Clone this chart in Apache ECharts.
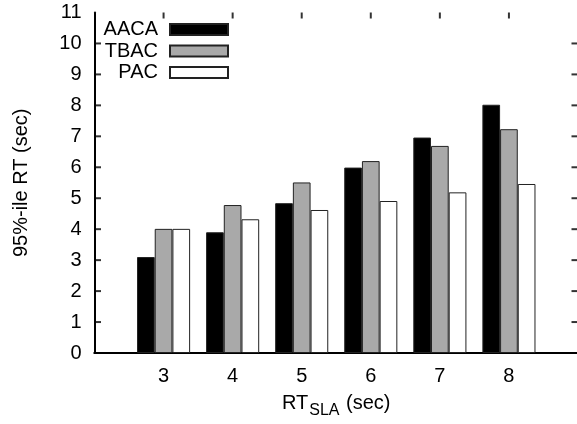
<!DOCTYPE html>
<html>
<head>
<meta charset="utf-8">
<script src="https://cdn.jsdelivr.net/npm/echarts@6/dist/echarts.min.js"></script>
<style>html,body{margin:0;padding:0;background:#fff;}#c{width:577px;height:424px;}</style>
</head>
<body>
<div id="c"></div>
<script>
const categories = ['3', '4', '5', '6', '7', '8'];
const seriesNames = ['AACA', 'TBAC', 'PAC'];
const aaca = [3.1, 3.9, 4.84, 5.99, 6.96, 8.02];
const tbac = [4.01, 4.78, 5.51, 6.2, 6.69, 7.23];
const pac = [4.01, 4.32, 4.62, 4.91, 5.19, 5.46];
const yTicks = [0, 1, 2, 3, 4, 5, 6, 7, 8, 9, 10, 11];

const FONT = 'Liberation Sans, Arial, Helvetica, sans-serif';
const axisCats = ['2'].concat(categories, ['9']);
const leftCat = axisCats[0];
const rightCat = axisCats[axisCats.length - 1];
const yMin = yTicks[0], yMax = yTicks[yTicks.length - 1];
const pad = v => [null].concat(v, [null]);
const colors = ['#000000', '#a9a9a9', '#ffffff'];
const values = [aaca, tbac, pac];
const innerY = yTicks.filter(t => t > yMin && t < yMax);

const chart = echarts.init(document.getElementById('c'), null, {renderer: 'canvas'});
const legendTops = [18.5, 40, 61.5];

const tickSeries = (data, size, offset) => ({
  type: 'scatter', xAxisIndex: 0, yAxisIndex: 0, silent: true, z: 5, clip: false,
  symbol: 'rect', symbolSize: size, symbolOffset: offset,
  itemStyle: {color: '#000'}, data: data, legendHoverLink: false
});

const option = {
  animation: false,
  backgroundColor: '#fff',
  textStyle: {fontFamily: FONT},
  grid: {left: 94.5, right: -1, top: 12.5, bottom: 71, containLabel: false, outerBoundsMode: 'none'},
  legend: seriesNames.map((n, i) => ({
    data: [n], orient: 'vertical', align: 'right', right: 348, top: legendTops[i], padding: 0,
    itemWidth: 58, itemHeight: 11, icon: 'rect', selectedMode: false,
    textStyle: {fontFamily: FONT, fontSize: 20, color: '#000', lineHeight: 22, padding: [0, 7, 0, 0]}
  })),
  xAxis: [{
    type: 'category', data: axisCats, boundaryGap: false, position: 'bottom',
    axisLine: {lineStyle: {color: '#000', width: 2}},
    axisTick: {show: false},
    axisLabel: {fontFamily: FONT, fontSize: 20, color: '#000', margin: 13,
      interval: 0,
      formatter: v => categories.indexOf(v) >= 0 ? v : ''},
    name: '{a|RT}{s|SLA}{a| (sec)}', nameLocation: 'middle', nameGap: 40,
    nameTextStyle: {
      rich: {
        a: {fontFamily: FONT, fontSize: 20, color: '#000', verticalAlign: 'top', lineHeight: 26},
        s: {fontFamily: FONT, fontSize: 16, color: '#000', verticalAlign: 'bottom', lineHeight: 26, padding: [9, 1, 0, 1]}
      }
    }
  }, {
    type: 'category', data: axisCats, boundaryGap: false, position: 'top',
    axisLine: {lineStyle: {color: '#000', width: 2}},
    axisTick: {show: false},
    axisLabel: {show: false}
  }],
  yAxis: [{
    type: 'value', min: yMin, max: yMax, interval: 1, position: 'left',
    splitLine: {show: false},
    axisLine: {show: true, lineStyle: {color: '#000', width: 2}},
    axisTick: {show: false},
    axisLabel: {fontFamily: FONT, fontSize: 20, color: '#000', margin: 13,
      formatter: v => yTicks.indexOf(v) >= 0 ? String(v) : ''},
    name: '95%-ile RT (sec)', nameLocation: 'middle', nameGap: 63, nameRotate: 90,
    nameTextStyle: {fontFamily: FONT, fontSize: 20, color: '#000'}
  }, {
    type: 'value', min: yMin, max: yMax, interval: 1, position: 'right',
    splitLine: {show: false},
    axisLine: {show: true, lineStyle: {color: '#000', width: 2}},
    axisTick: {show: false},
    axisLabel: {show: false}
  }],
  series: seriesNames.map((n, i) => ({
    name: n, type: 'bar', xAxisIndex: 0, yAxisIndex: 0,
    data: pad(values[i]), barWidth: 17.7, barGap: '0%',
    itemStyle: {color: colors[i], borderColor: '#222', borderWidth: 1}
  })).concat([
    tickSeries(innerY.map(t => [leftCat, t]), [6, 2], [3.5, 0]),
    tickSeries(innerY.map(t => [rightCat, t]), [6, 2], [-3.5, 0]),
    tickSeries(categories.map(c => [c, yMax]), [2, 6], [0, 3])
  ])
};
chart.setOption(option);
</script>
</body>
</html>
